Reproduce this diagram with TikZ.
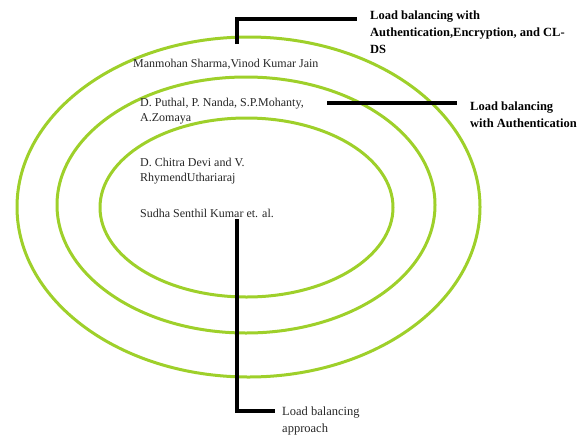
\documentclass[tikz,border=0pt]{standalone}
\usepackage{fontspec}
\setmainfont{Liberation Serif}
\definecolor{ringgreen}{RGB}{158,208,42}
\begin{document}
\begin{tikzpicture}[x=1pt,y=-1pt,
  ring/.style={draw=ringgreen,line width=3pt},
  conn/.style={draw=black,line width=3.2pt},
  names/.style={anchor=base west,inner sep=0pt,align=left,font=\fontsize{12}{14.5}\selectfont,text=black!85},
  boldlab/.style={anchor=base west,inner sep=0pt,align=left,font=\bfseries\fontsize{12.5}{17}\selectfont},
  plainlab/.style={anchor=base west,inner sep=0pt,align=left,font=\fontsize{12.5}{17}\selectfont,text=black!85}]
\useasboundingbox (0,0) rectangle (585,439);
% rings
\draw[ring] (248.5,207) ellipse [x radius=231.5, y radius=170];
\draw[ring] (246,205) ellipse [x radius=189, y radius=128];
\draw[ring] (246.5,207.5) ellipse [x radius=146.5, y radius=89.5];
% names (base = baseline of last line)
\node[names] (m1) at (133,67) {Manmohan Sharma,Vinod Kumar Jain};
\node[names] (m2) at (140,121) {D. Puthal, P. Nanda, S.P.Mohanty,\\A.Zomaya};
\node[names] (m3) at (140,181) {D. Chitra Devi and V.\\RhymendUthariaraj};
\node[names] (m4) at (140,217) {Sudha Senthil Kumar et. al.};
% labels
\node[boldlab] (l1) at (370,53) {Load balancing with\\Authentication,Encryption, and CL-\\DS};
\node[boldlab] (l2) at (470,127) {Load balancing\\with Authentication};
\node[plainlab] (l3) at (282,432) {Load balancing\\approach};
% connector ends
\coordinate (a1) at (237,44);
\coordinate (a2) at (357,19);
\coordinate (b1) at (327,103);
\coordinate (b2) at (457,103);
\coordinate (c1) at (237,219);
\coordinate (c2) at (275,411);
\draw[conn] (a1) |- (a2);
\draw[conn] (b1) -- (b2);
\draw[conn] (c1) |- (c2);
\end{tikzpicture}
\end{document}
